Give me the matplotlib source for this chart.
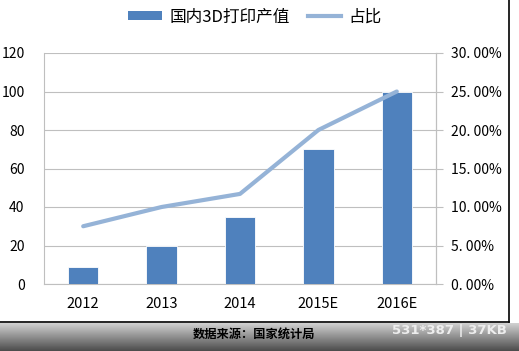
import matplotlib
matplotlib.use("Agg")
import matplotlib.pyplot as plt
import numpy as np
from matplotlib.lines import Line2D
from matplotlib.patches import Patch

plt.rcParams['font.family'] = ['Noto Sans CJK SC', 'DejaVu Sans']

categories = ['2012', '2013', '2014', '2015E', '2016E']
output_values = [9, 20, 35, 70, 100]
share_values = [7.5, 10.0, 11.7, 20.0, 25.0]
left_ticks = [0, 20, 40, 60, 80, 100, 120]
right_ticks = [0, 5, 10, 15, 20, 25, 30]
right_labels = ['0. 00%', '5. 00%', '10. 00%', '15. 00%', '20. 00%', '25. 00%', '30. 00%']

bar_color = '#4F81BD'
line_color = '#95B3D7'
grid_color = '#BFBFBF'

W, H = 519, 351
fig = plt.figure(figsize=(W / 100, H / 100), dpi=100)
fig.patch.set_facecolor('white')

ax = fig.add_axes([44 / W, 1 - 284 / H, (436 - 44) / W, (284 - 53) / H])
x = np.arange(len(categories))
ax.bar(x, output_values, width=0.39, color=bar_color, edgecolor='white', linewidth=0.6, zorder=3)
ax.set_xlim(-0.5, len(categories) - 0.5)
ax.set_ylim(0, 120)
ax.set_yticks(left_ticks)
ax.set_yticklabels([str(t) for t in left_ticks], fontsize=10, color='#000000')
ax.set_xticks(x)
ax.set_xticklabels(categories, fontsize=10.5)
ax.tick_params(axis='y', length=0, pad=14)
ax.tick_params(axis='x', length=0, pad=9)
ax.grid(axis='y', color=grid_color, linewidth=0.8, zorder=0)
for s in ['left', 'bottom', 'top', 'right']:
    ax.spines[s].set_color(grid_color)
    ax.spines[s].set_linewidth(0.8)
ax.spines['top'].set_visible(False)

ax2 = ax.twinx()
ax2.plot(x, share_values, color=line_color, linewidth=3, solid_capstyle='round', zorder=4)
ax2.set_ylim(0, 30)
ax2.set_yticks(right_ticks)
ax2.set_yticklabels(right_labels, fontsize=10)
ax2.tick_params(axis='y', length=5, color=grid_color, pad=6)
for s in ['left', 'bottom', 'top', 'right']:
    ax2.spines[s].set_visible(False)
ax2.spines['right'].set_visible(True)
ax2.spines['right'].set_color(grid_color)
ax2.spines['right'].set_linewidth(0.8)

handles = [Patch(facecolor=bar_color, edgecolor='none'),
           Line2D([0], [0], color=line_color, linewidth=3)]
fig.legend(handles, ['国内3D打印产值', '占比'], loc='center', bbox_to_anchor=(255 / W, 1 - 17 / H),
           ncol=2, frameon=False, fontsize=12, handlelength=2.0, handleheight=0.4,
           columnspacing=1.1, handletextpad=0.45, borderpad=0)

# black border lines
fig.add_artist(Line2D([509 / W, 509 / W], [1 - 322 / H, 1], color='black', linewidth=1.2,
                      transform=fig.transFigure))
fig.add_artist(Line2D([0, 509 / W], [1 - 322 / H, 1 - 322 / H], color='black', linewidth=1.2,
                      transform=fig.transFigure))

# footer gradient band
fax = fig.add_axes([0, 0, 1, (H - 323) / H])
grad = np.linspace(0.82, 0.3, 64).reshape(-1, 1)
fax.imshow(grad, aspect='auto', cmap='gray', vmin=0, vmax=1, extent=[0, 1, 0, 1])
fax.set_axis_off()
fax.text(254 / W, 0.6, '数据来源：国家统计局', ha='center', va='center', fontsize=8.8,
         color='black', fontweight='bold')
fax.text(507 / W, 0.72, '531*387 | 37KB', ha='right', va='center', fontsize=9.5,
         color='#EEEEEE', fontweight='bold', family=['DejaVu Sans'])

fig.savefig('out.png', dpi=100, facecolor='white')
